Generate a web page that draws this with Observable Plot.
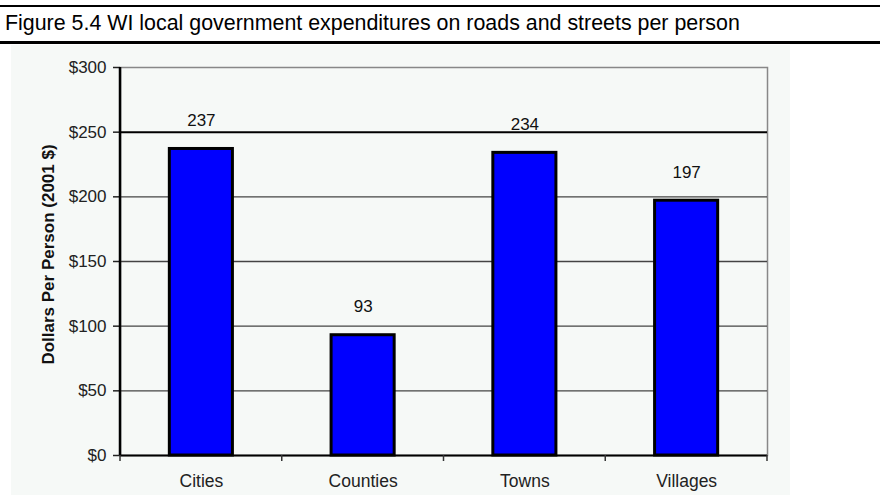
<!DOCTYPE html>
<html><head><meta charset="utf-8">
<script src="https://cdn.jsdelivr.net/npm/d3@7"></script>
<script src="https://cdn.jsdelivr.net/npm/@observablehq/plot@0.6"></script>
<style>
body{margin:0;background:#fff;font-family:"Liberation Sans",Arial,sans-serif;}
#wrap{position:relative;width:880px;height:495px;overflow:hidden;}
#topline{position:absolute;left:0;top:5px;width:880px;height:2px;background:#000;}
#title{position:absolute;left:5px;top:13px;font-size:21.4px;line-height:1;white-space:nowrap;color:#000;}
#thick{position:absolute;left:0;top:41px;width:880px;height:3px;background:#000;}
#bg{position:absolute;left:11px;top:45px;width:779px;height:450px;background:#f6f9f7;}
#chart{position:absolute;left:0;top:45px;}
</style></head>
<body>
<div id="wrap">
  <div id="topline"></div>
  <div id="title"></div>
  <div id="thick"></div>
  <div id="bg"></div>
  <div id="chart"></div>
</div>
<script>
const titleText = "Figure 5.4 WI local government expenditures on roads and streets per person";
const categories = ["Cities", "Counties", "Towns", "Villages"];
const values = [237, 93, 234, 197];
const yTicks = [0, 50, 100, 150, 200, 250, 300];
const gridValues = [50, 100, 150, 200];
const darkGrid = [250];
const yTitle = "Dollars Per Person (2001 $)";

const data = categories.map((c, i) => ({category: c, value: values[i]}));

document.getElementById("title").textContent = titleText;

function boundaryTicks(index, scales) {
  const x = scales.x, y = scales.y;
  const [r0, r1] = x.range();
  const n = x.domain().length;
  const y0 = y(0);
  const yTop = y(d3.max(yTicks));
  const g = d3.create("svg:g");
  for (let i = 0; i <= n; i++) {
    const px = r0 + i * (r1 - r0) / n;
    g.append("line").attr("x1", px).attr("x2", px).attr("y1", y0).attr("y2", y0 + 6)
      .attr("stroke", "#333").attr("stroke-width", 1.5);
  }
  g.append("line").attr("x1", r0).attr("x2", r0).attr("y1", yTop).attr("y2", y0)
    .attr("stroke", "#000").attr("stroke-width", 2.5);
  return g.node();
}

const chart = Plot.plot({
  width: 880,
  height: 450,
  marginLeft: 120,
  marginRight: 113,
  marginTop: 22,
  marginBottom: 40,
  style: {background: "transparent", fontFamily: "'Liberation Sans', Arial, sans-serif", overflow: "visible"},
  x: {domain: categories, paddingInner: 0.61, paddingOuter: 0.305, round: false, label: null},
  y: {domain: [0, 300], label: null},
  marks: [
    Plot.frame({stroke: "#888", strokeWidth: 1.5}),
    Plot.ruleY(gridValues, {stroke: "#444", strokeWidth: 1.3}),
    Plot.ruleY(darkGrid, {stroke: "#000", strokeWidth: 2}),
    Plot.barY(data, {x: "category", y: "value", fill: "#0000ff", stroke: "#000", strokeWidth: 3}),
    Plot.text(data, {x: "category", y: "value", text: d => String(d.value), lineAnchor: "bottom", dy: -23, fontSize: 17, fill: "#111"}),
    Plot.ruleY([0], {stroke: "#000", strokeWidth: 2}),
    Plot.axisY({ticks: yTicks, tickFormat: d => "$" + d, tickSize: 7, tickPadding: 7, fontSize: 17, label: null, color: "#222", strokeWidth: 1.5}),
    Plot.axisX({tickSize: 0, tickPadding: 19, fontSize: 17.5, label: null, color: "#222"}),
    Plot.text([yTitle], {text: d => d, frameAnchor: "left", textAnchor: "middle", dx: -71.5, dy: -7, rotate: -90, fontWeight: "bold", fontSize: 17, fill: "#111"}),
    boundaryTicks
  ]
});
document.getElementById("chart").appendChild(chart);
</script>
</body></html>
